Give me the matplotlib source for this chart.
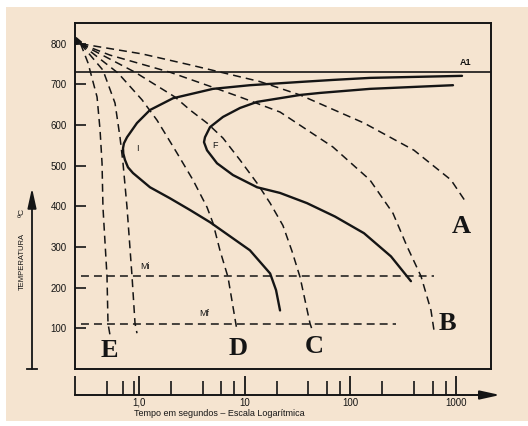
import numpy as np
import matplotlib.pyplot as plt
from matplotlib.patches import Rectangle
from matplotlib.lines import Line2D
from matplotlib.ticker import NullLocator, FixedLocator

# --- Data (time in s, temperature in C) ---
# curve I: start of transformation
start_t = [1138, 153, 68.4, 33.4, 11.2, 5.01, 2.10, 1.27, 0.957, 0.770, 0.72, 0.706, 0.71,
           0.737, 0.787, 0.877, 1.27, 1.96, 3.04, 4.70, 11.2, 17.4, 19.8, 21.6]
start_T = [721, 716, 711, 706, 698, 689, 666, 637, 605, 570, 555, 543, 530,
           514, 496, 482, 447, 420, 391, 361, 292, 235, 194, 144]

# curve F: end of transformation
finish_t = [935, 153, 51.5, 33.4, 13.1, 9.03, 6.23, 4.70, 4.21, 4.12, 4.40,
            5.47, 7.75, 13.1, 21.6, 38.8, 71.5, 134.5, 242, 374]
finish_T = [698, 689, 679, 674, 657, 642, 620, 595, 570, 558, 538,
            506, 477, 447, 433, 408, 375, 334, 277, 216]

# cooling curves
cool_A_t = [0.28, 1.068, 3.04, 13.9, 33.4, 134.5, 400, 895, 1242]
cool_A_T = [800, 775, 748, 707, 674, 605, 538, 465, 410]

cool_B_t = [0.28, 0.532, 1.96, 5.24, 9.03, 21.6, 68.4, 153, 253, 343, 466, 579, 618]
cool_B_T = [800, 772, 730, 691, 669, 632, 546, 465, 383, 302, 228, 144, 95]

cool_C_t = [0.28, 0.917, 2.19, 3.04, 4.40, 6.23, 9.03, 13.1, 17.4, 23.0, 28.0, 33.4, 41.5, 44.3]
cool_C_T = [800, 730, 669, 637, 605, 568, 514, 457, 408, 353, 290, 226, 112, 90]

cool_D_t = [0.28, 0.633, 1.068, 1.48, 1.76, 2.29, 3.24, 4.40, 5.01, 5.83, 6.95, 8.45]
cool_D_T = [800, 728, 662, 612, 580, 531, 465, 398, 359, 292, 226, 95]

cool_crit_t = [0.28, 0.456, 0.593, 0.661, 0.706, 0.770, 0.859, 0.917, 0.957]
cool_crit_T = [800, 735, 654, 570, 506, 398, 228, 112, 88]

cool_E_t = [0.28, 0.329, 0.401, 0.428, 0.447, 0.456, 0.498, 0.509, 0.532]
cool_E_T = [800, 753, 669, 588, 506, 398, 228, 112, 83]

A1_temp = 730
Mi_temp, Mi_end = 228, 618
Mf_temp, Mf_end = 110, 270
t_origin = 0.28

y_ticks = [100, 200, 300, 400, 500, 600, 700, 800]
x_major = [0.25, 1, 10, 100, 1000]
x_major_labels = ['', '1,0', '10', '100', '1000']
x_minor = [0.5, 0.7, 0.9, 2, 4, 6, 8, 20, 40, 60, 80, 200, 400, 600, 800]

CREAM = '#f5e4d0'
INK = '#151515'
plt.rcParams['font.family'] = ['Liberation Sans', 'DejaVu Sans']

fig = plt.figure(figsize=(5.28, 4.26), dpi=100, facecolor='white')
fig.patches.append(Rectangle((6 / 528, 5 / 426), 522 / 528, 414 / 426,
                             transform=fig.transFigure, facecolor=CREAM,
                             edgecolor='none', zorder=-10))

# --- main diagram ---
ax = fig.add_axes([75 / 528, 57 / 426, 416 / 528, 346 / 426])
ax.set_facecolor('none')
ax.set_xscale('log')
ax.set_xlim(0.248, 2140)
ax.set_ylim(0, 851)
for s in ax.spines.values():
    s.set_linewidth(1.4)
    s.set_color(INK)
ax.xaxis.set_major_locator(NullLocator())
ax.xaxis.set_minor_locator(NullLocator())
ax.set_yticks(y_ticks)
ax.tick_params(axis='y', direction='in', length=8, width=1.2, pad=6,
               labelsize=7, colors=INK)

solid = dict(color=INK, lw=1.7, solid_capstyle='round', solid_joinstyle='round')
ax.plot(start_t, start_T, **solid)
ax.plot(finish_t, finish_T, **solid)
ax.axhline(A1_temp, color=INK, lw=1.2)

dash = dict(color=INK, lw=1.1, dashes=(5.2, 3.3))
for tt, TT in [(cool_A_t, cool_A_T), (cool_B_t, cool_B_T), (cool_C_t, cool_C_T),
               (cool_D_t, cool_D_T), (cool_crit_t, cool_crit_T), (cool_E_t, cool_E_T)]:
    ax.plot(tt, TT, **dash)

ax.plot([t_origin, Mi_end], [Mi_temp, Mi_temp], **dash)
ax.plot([t_origin, Mf_end], [Mf_temp, Mf_temp], **dash)
ax.plot([0.258], [806], marker=(3, 0, 20), ms=6, color=INK, clip_on=False)

small = dict(fontsize=6.5, color=INK, ha='center', va='center')
ax.text(1242, 753, 'A1', fontweight='bold', **small)
ax.text(1.14, 252, 'Mi', **small)
ax.text(4.12, 137, 'Mf', **small)
ax.text(0.957, 543, 'I', **small)
ax.text(5.24, 550, 'F', **small)

big = dict(fontsize=19, fontweight='bold', family='Liberation Serif',
           color=INK, ha='center', va='center')
ax.text(1113, 351, 'A', **big)
ax.text(820, 112, 'B', **big)
ax.text(45.3, 56, 'C', **big)
ax.text(8.64, 51, 'D', **big)
ax.text(0.52, 46, 'E', **big)

# --- separate time axis strip ---
ax2 = fig.add_axes([75 / 528, 31 / 426, 416 / 528, 24 / 426])
ax2.set_facecolor('none')
ax2.set_xscale('log')
ax2.set_xlim(0.248, 2140)
for k in ['top', 'left', 'right']:
    ax2.spines[k].set_visible(False)
ax2.spines['bottom'].set_linewidth(1.4)
ax2.spines['bottom'].set_color(INK)
ax2.set_yticks([])
ax2.xaxis.set_major_locator(FixedLocator(x_major))
ax2.set_xticklabels(x_major_labels)
ax2.xaxis.set_minor_locator(FixedLocator(x_minor))
ax2.xaxis.set_minor_formatter(plt.NullFormatter())
ax2.tick_params(axis='x', which='major', direction='in', length=14, width=1.3,
                labelsize=7, pad=2, colors=INK)
ax2.tick_params(axis='x', which='minor', direction='in', length=10, width=1.2,
                colors=INK)
ax2.annotate('', xy=(1.022, 0), xytext=(0.99, 0), xycoords='axes fraction',
             arrowprops=dict(arrowstyle='-|>,head_length=1.0,head_width=0.22',
                             lw=1.4, color=INK, mutation_scale=12, shrinkA=0, shrinkB=0),
             annotation_clip=False)

fig.text(219 / 528, 1 - 413 / 426, 'Tempo em segundos – Escala Logarítmica',
         ha='center', va='center', fontsize=6.5, color=INK)

# --- temperature arrow on the left ---
fig.add_artist(Line2D([27 / 528, 37 / 528], [57 / 426, 57 / 426], color=INK, lw=1.3))
ax.annotate('', xy=(32, 426 - 188), xytext=(32, 426 - 369), xycoords='figure pixels',
            arrowprops=dict(arrowstyle='-|>,head_length=1.0,head_width=0.22',
                            lw=1.3, color=INK, mutation_scale=12, shrinkA=0, shrinkB=0),
            annotation_clip=False)
fig.text(22 / 528, 1 - 261 / 426, 'TEMPERATURA', rotation=90, ha='center',
         va='center', fontsize=5.5, color=INK)
fig.text(22 / 528, 1 - 212 / 426, 'ºC', rotation=90, ha='center',
         va='center', fontsize=6, color=INK)

fig.savefig('out.png', dpi=100, facecolor='white')
